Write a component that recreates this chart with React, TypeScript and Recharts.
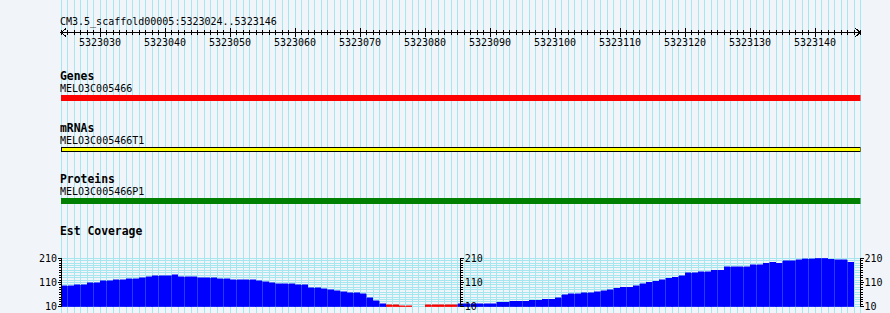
import React from "react"
import { ComposedChart, BarChart, Bar, XAxis, YAxis, CartesianGrid, ReferenceLine, Cell } from "recharts"

// visible window of the reference sequence
const refName = "CM3.5_scaffold00005"
const viewStart = 5323024
const viewEnd = 5323146

// feature tracks (all three features run past both edges of the window)
const trackNames = ["Genes", "mRNAs", "Proteins"]
const featureNames = ["MELO3C005466", "MELO3C005466T1", "MELO3C005466P1"]
const featureStart = [5323024, 5323024, 5323024]
const featureEnd = [5323147, 5323147, 5323147]

// est coverage, one value per base from viewStart to viewEnd (null = no data)
const coverageTitle = "Est Coverage"
const coverage: (number | null)[] = [
  96, 96, 100, 100, 109, 109, 117, 117, 121, 121,
  125, 125, 129, 133, 137, 137, 137, 142, 133, 133,
  133, 129, 129, 129, 125, 125, 121, 121, 121, 121,
  117, 113, 109, 104, 104, 104, 100, 100, 88, 88,
  84, 80, 75, 71, 67, 67, 63, 47, 35, 22,
  18, 18, 14, 14, null, null, 18, 18, 18, 18,
  18, 23, 23, 23, 23, 23, 23, 28, 28, 33,
  33, 33, 37, 37, 41, 41, 47, 60, 64, 64,
  68, 68, 72, 76, 80, 86, 90, 90, 96, 105,
  112, 116, 122, 128, 132, 137, 150, 150, 155, 155,
  160, 160, 175, 175, 175, 175, 184, 184, 190, 194,
  190, 200, 200, 204, 209, 209, 210, 210, 207, 204,
  204, 194, null,
]
// bases whose coverage fell under the scale minimum and is drawn clipped
const clippedBases = [5323074, 5323075, 5323076, 5323077, 5323080, 5323081, 5323082, 5323083, 5323084]
const coverageTicks = [10, 20, 30, 40, 50, 60, 70, 80, 90, 100, 110, 120, 130, 140, 150, 160, 170, 180, 190, 200, 210]
const coverageLabels = [10, 110, 210]

const mono = "'DejaVu Sans Mono', monospace"
const bg = "#f1f5fa"
const gridMinor = "#a6e6ee"
const gridMajor = "#8cc6e6"
const trackFill = ["#ff0000", "#ffff00", "#008000"]
const trackStroke = ["none", "#000000", "none"]

const baseTicks = Array.from({ length: viewEnd - viewStart + 2 }, (_, i) => viewStart + i)
const decadeTicks = baseTicks.filter((p) => p % 10 === 0)
const xDomain: [number, number] = [viewStart, viewEnd + 1]
const sideMargin = { left: 61, right: 29.5 }

// base p covers [p, p + 1)
const coverageData = coverage.map((v, i) => ({
  x: viewStart + i + 0.5,
  v,
  clipped: clippedBases.includes(viewStart + i),
}))

function RulerTick(props: any) {
  const { x, y, payload } = props
  const p = payload.value
  const major = p % 10 === 0
  return (
    <g>
      <line x1={x} x2={x} y1={major ? y - 5 : y - 2.5} y2={major ? y + 4.5 : y + 2.5} stroke="#000" />
      {major && (
        <text x={x} y={y + 13.5} textAnchor="middle" fontFamily={mono} fontSize={10} fill="#000">
          {p}
        </text>
      )}
      {p === viewStart && <path d={`M${x + 5},${y - 4}L${x},${y}L${x + 5},${y + 4}`} stroke="#000" fill="none" />}
      {p === viewEnd + 1 && <path d={`M${x - 5},${y - 4}L${x},${y}L${x - 5},${y + 4}`} stroke="#000" fill="none" />}
    </g>
  )
}

function ScaleTick(props: any) {
  const { x, y, payload, side } = props
  const v = payload.value
  const major = coverageLabels.includes(v)
  const dir = side === "left" ? -1 : 1
  return (
    <g>
      <line x1={x} x2={x + dir * (major ? 3.5 : 2.5)} y1={y} y2={y} stroke="#000" />
      {major && (
        <text
          x={x + dir * 4}
          y={y + 3.6}
          textAnchor={side === "left" ? "end" : "start"}
          fontFamily={mono}
          fontSize={10}
          fill="#000"
        >
          {v}
        </text>
      )}
    </g>
  )
}

function FeatureTrack({ index, top, mTop, mBottom }: { index: number; top: number; mTop: number; mBottom: number }) {
  const data = [{ name: featureNames[index], span: [featureStart[index], featureEnd[index]] }]
  return (
    <div style={{ position: "absolute", left: 0, top }}>
      <BarChart
        width={890}
        height={20}
        layout="vertical"
        data={data}
        barCategoryGap={0}
        margin={{ top: mTop, bottom: mBottom, ...sideMargin }}
      >
        <XAxis type="number" domain={xDomain} hide allowDataOverflow />
        <YAxis type="category" dataKey="name" hide />
        <Bar dataKey="span" fill={trackFill[index]} stroke={trackStroke[index]} isAnimationActive={false} />
      </BarChart>
    </div>
  )
}

function ScaleAxis({ id, side, width }: { id: string; side: "left" | "right"; width: number }) {
  return (
    <YAxis
      yAxisId={id}
      orientation={side}
      width={width}
      domain={[10, 210]}
      ticks={coverageTicks}
      interval={0}
      allowDataOverflow
      tickSize={0}
      tickMargin={0}
      tickLine={false}
      axisLine={{ stroke: "#000" }}
      tick={(p: any) => <ScaleTick {...p} side={side} />}
    />
  )
}

export default function App() {
  const labelStyle = { fontFamily: mono, fill: "#000" }
  const trackLabelY = [80, 131.5, 183]
  const featureLabelY = [92, 144, 195]
  return (
    <div
      className="gb"
      style={{ position: "absolute", left: 0, top: 0, width: 890, height: 313, background: bg, overflow: "hidden" }}
    >
      <style>{`.gb .recharts-wrapper line, .gb .recharts-wrapper path, .gb .recharts-wrapper rect { shape-rendering: crispEdges; }`}</style>
      {/* base grid */}
      <div style={{ position: "absolute", left: 0, top: 0 }}>
        <ComposedChart width={890} height={313} data={coverageData} margin={{ top: 0, bottom: 0, ...sideMargin }}>
          <CartesianGrid horizontal={false} stroke={gridMinor} />
          <XAxis type="number" dataKey="x" domain={xDomain} ticks={baseTicks} interval={0} hide allowDataOverflow />
          <YAxis hide domain={[0, 1]} />
          {decadeTicks.map((p) => (
            <ReferenceLine key={p} x={p} stroke={gridMajor} />
          ))}
        </ComposedChart>
      </div>

      {/* ruler */}
      <div style={{ position: "absolute", left: 0, top: 0 }}>
        <ComposedChart width={890} height={50} data={coverageData} margin={{ top: 0, bottom: 0, ...sideMargin }}>
          <XAxis
            type="number"
            dataKey="x"
            domain={xDomain}
            ticks={baseTicks}
            interval={0}
            height={17.5}
            tickSize={0}
            tickMargin={0}
            tickLine={false}
            axisLine={{ stroke: "#000" }}
            tick={(p: any) => <RulerTick {...p} />}
            allowDataOverflow
          />
          <YAxis hide domain={[0, 1]} />
        </ComposedChart>
      </div>

      <FeatureTrack index={0} top={90} mTop={5} mBottom={9} />
      <FeatureTrack index={1} top={140} mTop={7.5} mBottom={8.5} />
      <FeatureTrack index={2} top={190} mTop={8} mBottom={6} />

      {/* coverage */}
      <div style={{ position: "absolute", left: 0, top: 250 }}>
        <ComposedChart width={890} height={63} data={coverageData} margin={{ top: 8.3, bottom: 6.3, left: 0, right: 0 }}>
          <CartesianGrid vertical={false} stroke={gridMinor} yAxisId="l" />
          <XAxis type="number" dataKey="x" domain={xDomain} ticks={baseTicks} interval={0} hide allowDataOverflow />
          {ScaleAxis({ id: "l", side: "left", width: 61 })}
          {ScaleAxis({ id: "r", side: "right", width: 29.5 })}
          <Bar yAxisId="l" dataKey="v" barSize={6.49} isAnimationActive={false}>
            {coverageData.map((d, i) => (
              <Cell key={i} fill={d.clipped ? "#ff0000" : "#0000ff"} stroke={d.clipped ? "#ff0000" : "#0000ff"} strokeWidth={0.5} />
            ))}
          </Bar>
        </ComposedChart>
      </div>

      {/* scale repeated in the middle of the track */}
      <div style={{ position: "absolute", left: 458, top: 250 }}>
        <ComposedChart width={30} height={63} margin={{ top: 8.3, bottom: 6.3, left: 0, right: 0 }}>
          <XAxis type="number" domain={[0, 1]} hide />
          {ScaleAxis({ id: "m", side: "right", width: 27.25 })}
        </ComposedChart>
      </div>

      <svg width={890} height={313} style={{ position: "absolute", left: 0, top: 0 }}>
        <text x={60} y={25} fontSize={10} {...labelStyle}>
          {`${refName}:${viewStart}..${viewEnd}`}
        </text>
        {trackNames.map((t, i) => (
          <g key={t}>
            <text x={60} y={trackLabelY[i]} fontSize={11.4} fontWeight="bold" {...labelStyle}>
              {t}
            </text>
            <text x={60} y={featureLabelY[i]} fontSize={10} {...labelStyle}>
              {featureNames[i]}
            </text>
          </g>
        ))}
        <text x={60} y={235} fontSize={11.4} fontWeight="bold" {...labelStyle}>
          {coverageTitle}
        </text>
      </svg>
    </div>
  )
}
